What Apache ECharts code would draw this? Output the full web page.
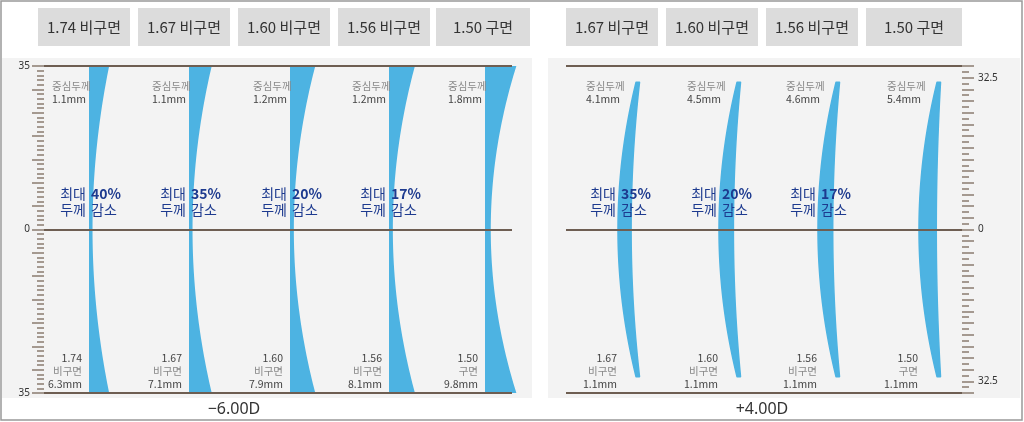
<!DOCTYPE html>
<html><head><meta charset="utf-8">
<script src="https://cdn.jsdelivr.net/npm/echarts@6/dist/echarts.min.js"></script>
<style>html,body{margin:0;padding:0;background:#fff}#c{width:1024px;height:422px}</style>
</head><body><div id="c"></div>
<script>
var minusIdx=["1.74","1.67","1.60","1.56","1.50"];
var minusType=["비구면","비구면","비구면","비구면","구면"];
var minusCenter=[1.1,1.1,1.2,1.2,1.8];
var minusEdge=[6.3,7.1,7.9,8.1,9.8];
var minusReduce=[40,35,20,17,null];
var plusIdx=["1.67","1.60","1.56","1.50"];
var plusType=["비구면","비구면","비구면","구면"];
var plusCenter=[4.1,4.5,4.6,5.4];
var plusEdge=[1.1,1.1,1.1,1.1];
var plusReduce=[35,20,17,null];
var headL=["1.74 비구면","1.67 비구면","1.60 비구면","1.56 비구면","1.50 구면"];
var headR=["1.67 비구면","1.60 비구면","1.56 비구면","1.50 구면"];
// layout constants (px along hidden x axes)
var minusPos=[45,145,246,345,441];
var plusPos=[70,171,270,371];
var K=3.2,BULGE=18,TIP=31.5;
var BLUE="#4db3e2",NAVY="#1d3a8f",LINE="#6e5e52";

function reduceText(api,x,y,pct,out){
	var p=api.coord([x,y]);
	out.push({type:"text",style:{text:"최대",x:p[0]-3,y:p[1]-8,align:"right",verticalAlign:"middle",fill:NAVY,font:"14px 'Noto Sans CJK KR'"}});
	out.push({type:"text",style:{text:pct+"%",x:p[0]+2,y:p[1]-8,align:"left",verticalAlign:"middle",fill:NAVY,font:"bold 14px 'Noto Sans CJK KR'"}});
	out.push({type:"text",style:{text:"두께",x:p[0]-3,y:p[1]+8,align:"right",verticalAlign:"middle",fill:NAVY,font:"14px 'Noto Sans CJK KR'"}});
	out.push({type:"text",style:{text:"감소",x:p[0]+2,y:p[1]+8,align:"left",verticalAlign:"middle",fill:NAVY,font:"14px 'Noto Sans CJK KR'"}});
}
function smallText(api,x,y,lines,align,out){
	var p=api.coord([x,y]);
	for(var i=0;i<lines.length;i++){
		var grey=(lines.length==3&&i==1)||lines[i].indexOf("중심")==0;
		out.push({type:"text",style:{text:lines[i],x:p[0],y:p[1]+i*13,align:align,verticalAlign:"middle",fill:grey?"#888":"#444",font:"10.5px 'Noto Sans CJK KR'"}});
	}
}
function minusItem(params,api){
	var i=params.dataIndex,x0=minusPos[i],pts=[],ys=[];
	for(var y=-35;y<=35;y+=1){ys.push(y);}
	for(var a=0;a<ys.length;a++){pts.push(api.coord([x0,ys[a]]));}
	for(var b=ys.length-1;b>=0;b--){
		var u=ys[b]/35;
		pts.push(api.coord([x0+K*(minusCenter[i]+(minusEdge[i]-minusCenter[i])*u*u),ys[b]]));
	}
	var ch=[{type:"polygon",shape:{points:pts},style:{fill:BLUE}}];
	smallText(api,x0-37,30.7,["중심두께",minusCenter[i]+"mm"],"left",ch);
	smallText(api,x0-7,-27.5,[minusIdx[i],minusType[i],minusEdge[i]+"mm"],"right",ch);
	if(minusReduce[i]!=null){reduceText(api,x0,6,minusReduce[i],ch);}
	return {type:"group",children:ch};
}
function plusItem(params,api){
	var i=params.dataIndex,x0=plusPos[i],pts=[],ys=[];
	for(var y=-TIP;y<=TIP;y+=0.75){ys.push(y);}
	for(var a=0;a<ys.length;a++){
		var u=ys[a]/TIP;
		pts.push(api.coord([x0-BULGE*(1-u*u),ys[a]]));
	}
	for(var b=ys.length-1;b>=0;b--){
		var v=ys[b]/TIP;
		var t=plusEdge[i]+(plusCenter[i]-plusEdge[i])*(1-v*v);
		pts.push(api.coord([x0-BULGE*(1-v*v)+K*t,ys[b]]));
	}
	var ch=[{type:"polygon",shape:{points:pts},style:{fill:BLUE,stroke:BLUE,lineWidth:1.5,lineJoin:"round"}}];
	smallText(api,x0-50,30.7,["중심두께",plusCenter[i]+"mm"],"left",ch);
	smallText(api,x0-19,-27.5,[plusIdx[i],plusType[i],plusEdge[i]+"mm"],"right",ch);
	if(plusReduce[i]!=null){reduceText(api,x0-BULGE+1,6,plusReduce[i],ch);}
	return {type:"group",children:ch};
}
var graphics=[
	{type:"rect",shape:{x:1,y:1,width:1021,height:419},style:{fill:"#fff",stroke:"#999",lineWidth:1.5},z:-10},
	{type:"rect",shape:{x:2,y:58,width:530,height:340},style:{fill:"#f3f3f3"},z:-9},
	{type:"rect",shape:{x:548,y:58,width:472,height:340},style:{fill:"#f3f3f3"},z:-9},
	{type:"text",style:{text:"−6.00D",x:234,y:409,align:"center",verticalAlign:"middle",fill:"#333",font:"16px 'Noto Sans'"}},
	{type:"text",style:{text:"+4.00D",x:762,y:409,align:"center",verticalAlign:"middle",fill:"#333",font:"16px 'Noto Sans'"}}
];
var hl=[38,138,238,338,436],hr=[566,666,766,866];
function head(xs,names,w){
	for(var i=0;i<xs.length;i++){
		graphics.push({type:"rect",shape:{x:xs[i],y:8,width:w[i],height:38},style:{fill:"#dcdcdc"}});
		graphics.push({type:"text",style:{text:names[i],x:xs[i]+w[i]/2,y:27,align:"center",verticalAlign:"middle",fill:"#333",font:"15px 'Noto Sans CJK KR'"}});
	}
}
head(hl,headL,[92,92,92,92,94]);
head(hr,headR,[92,92,92,96]);
function yAx(idx,pos,right){
	return {gridIndex:idx,type:"value",min:-35,max:35,interval:right?2.5:5,position:pos,
		axisLine:{show:false,onZero:false},splitLine:{show:false},
		axisTick:{show:true,length:12,inside:false,lineStyle:{color:"#8a7c70",width:1.5}},
		minorTick:{show:true,splitNumber:right?2:5,length:7,lineStyle:{color:"#8a7c70",width:1.5}},
		axisLabel:{color:"#333",fontSize:10,fontFamily:"Noto Sans",margin:right?16:14,formatter:function(v){
			if(right){return Math.abs(v)==32.5?"32.5":(v==0?"0":"");}
			return Math.abs(v)==35?"35":(v==0?"0":"");
		}}};
}
var ml={silent:true,symbol:"none",label:{show:false},lineStyle:{color:LINE,type:"solid",width:2},data:[{yAxis:35},{yAxis:0},{yAxis:-35}]};
var chart=echarts.init(document.getElementById("c"));
chart.setOption({
	animation:false,
	graphic:graphics,
	grid:[{left:44,right:512,top:66,bottom:29},{left:566,right:62,top:66,bottom:29}],
	xAxis:[{gridIndex:0,type:"value",min:0,max:468,show:false},{gridIndex:1,type:"value",min:0,max:396,show:false}],
	yAxis:[yAx(0,"left",false),yAx(1,"right",true)],
	series:[
		{type:"custom",xAxisIndex:0,yAxisIndex:0,clip:false,renderItem:minusItem,data:minusIdx.map(function(v,i){return [minusPos[i],0];}),markLine:ml},
		{type:"custom",xAxisIndex:1,yAxisIndex:1,clip:false,renderItem:plusItem,data:plusIdx.map(function(v,i){return [plusPos[i],0];}),markLine:ml}
	]
});
</script></body></html>
